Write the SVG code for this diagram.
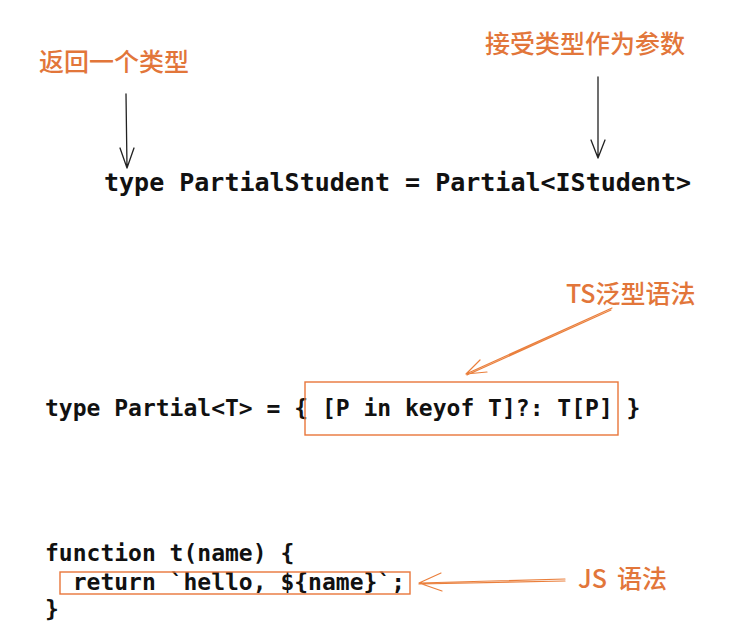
<svg xmlns="http://www.w3.org/2000/svg" width="744" height="627" viewBox="0 0 744 627">
<style>
.code{font-family:"DejaVu Sans Mono","Liberation Mono",monospace;font-weight:bold;fill:#111;white-space:pre}
.note{font-family:"Noto Sans CJK SC","Noto Sans",sans-serif;font-weight:500;fill:#e2763a;font-size:25px}
.blk{fill:none;stroke:#222;stroke-width:1.3;stroke-linecap:round;stroke-linejoin:round}
.org{fill:none;stroke:#ea7f3c;stroke-width:1.2;stroke-linecap:round;stroke-linejoin:round}
.box{fill:none;stroke:#e8763a;stroke-width:1.4}
</style>
<rect width="744" height="627" fill="#fff"/>
<g id="label-return-type"><text class="note" x="39" y="71">返回一个类型</text></g>
<g id="label-accept-param"><text class="note" x="485" y="53">接受类型作为参数</text></g>
<g id="code-line1"><text class="code" x="104" y="191" font-size="25">type PartialStudent = Partial&lt;IStudent&gt;</text></g>
<g id="label-ts"><text class="note" x="566" y="303" font-size="23">TS泛型语法</text></g>
<g id="code-line2"><text class="code" x="45" y="416" font-size="23">type Partial&lt;T&gt; = { [P in keyof T]?: T[P] }</text></g>
<g id="ts-box"><rect class="box" x="305" y="382" width="313" height="53"/></g>
<g id="code-block">
<text class="code" x="45" y="561" font-size="23">function t(name) {</text>
<text class="code" x="45" y="590" font-size="23">  return `hello, ${name}`;</text>
<text class="code" x="45" y="617" font-size="23">}</text>
</g>
<g id="js-box"><rect class="box" x="60" y="572" width="350" height="22"/></g>
<g id="label-js"><text class="note" x="578" y="588" font-size="24">JS <tspan x="617">语法</tspan></text></g>
<g id="connectors">
<path class="blk" d="M126 94 L127 168 M120 148 L127 168 L134 148"/>
<path class="blk" d="M598 77 L598 158 M591 140 L598 158 L605 140"/>
<path class="org" d="M612 308 L466 374 M611 310 L467 375 M480 360 L466 374 L487 372"/>
<path class="org" d="M565 579 L419 583 M565 581 L419 584 M441 573 L419 583 L442 591"/>
</g>
</svg>
